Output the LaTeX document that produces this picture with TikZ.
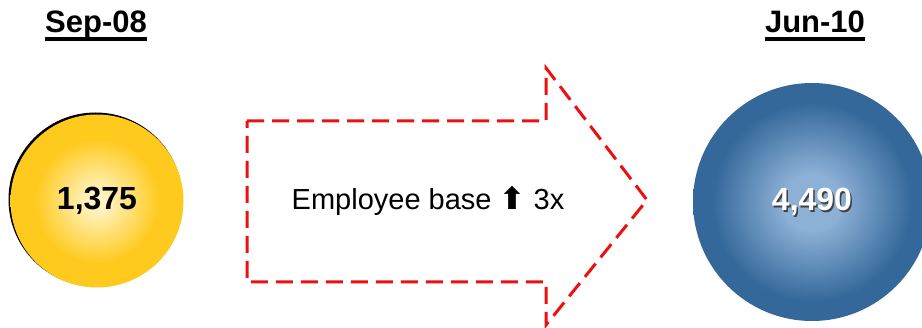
\documentclass[tikz,border=0pt]{standalone}
\usepackage{fontspec}
\setmainfont{Liberation Sans}
\newfontfamily\symfont{DejaVu Sans}
\definecolor{yelout}{RGB}{255,202,30}
\definecolor{yelin}{RGB}{255,246,205}
\definecolor{bluout}{RGB}{52,104,154}
\definecolor{bluin}{RGB}{140,176,214}
\definecolor{arrred}{RGB}{238,16,16}
\pgfdeclareradialshading{yelshade}{\pgfpoint{0bp}{0bp}}{color(0bp)=(yelin); color(4bp)=(yelin!85!yelout); color(18bp)=(yelout); color(25bp)=(yelout); color(50bp)=(yelout)}
\pgfdeclareradialshading{blushade}{\pgfpoint{0bp}{0bp}}{color(0bp)=(bluin); color(6bp)=(bluin); color(21bp)=(bluout); color(25bp)=(bluout); color(50bp)=(bluout)}
\begin{document}
\begin{tikzpicture}[x=1pt,y=1pt,
  heading/.style={font=\bfseries\fontsize{31}{31}\selectfont, inner sep=0pt, anchor=base},
  number/.style={font=\bfseries\fontsize{32}{32}\selectfont, inner sep=0pt},
  ulin/.style={line width=3.5pt}]
\useasboundingbox (0,0) rectangle (922,327);
% headings
\node[heading] (h1) at (96,294) {Sep-08};
\draw[ulin] ([yshift=-6pt]h1.base west) -- ([yshift=-6pt]h1.base east);
\node[heading] (h2) at (815,294) {Jun-10};
\draw[ulin] ([yshift=-6pt]h2.base west) -- ([yshift=-6pt]h2.base east);
% yellow circle
\fill[black] (95.5,127.5) circle (87);
\shade[shading=yelshade] (97,126) circle (86.5);
\node[number] (n1) at (97,126) {1,375};
% blue circle
\shade[shading=blushade] (812,125) circle (119);
\node[number, text=black!75] at (813.5,123.5) {4,490};
\node[number, text=white] (n2) at (812,125) {4,490};
% arrow
\coordinate (a1) at (247,206);
\coordinate (a2) at (546,206);
\coordinate (a3) at (546,259);
\coordinate (a4) at (647,127);
\coordinate (a5) at (546,2);
\coordinate (a6) at (546,45);
\coordinate (a7) at (247,45);
\draw[arrred, line width=3pt, dash pattern=on 17pt off 8pt]
  (a1) -- (a2) -- (a3) -- (a4) -- (a5) -- (a6) -- (a7) -- cycle;
\node[font=\fontsize{29}{29}\selectfont, inner sep=0pt] (lbl) at (428,126) {Employee base {\symfont\bfseries\fontsize{31}{31}\selectfont ⬆} 3x};
\end{tikzpicture}
\end{document}
